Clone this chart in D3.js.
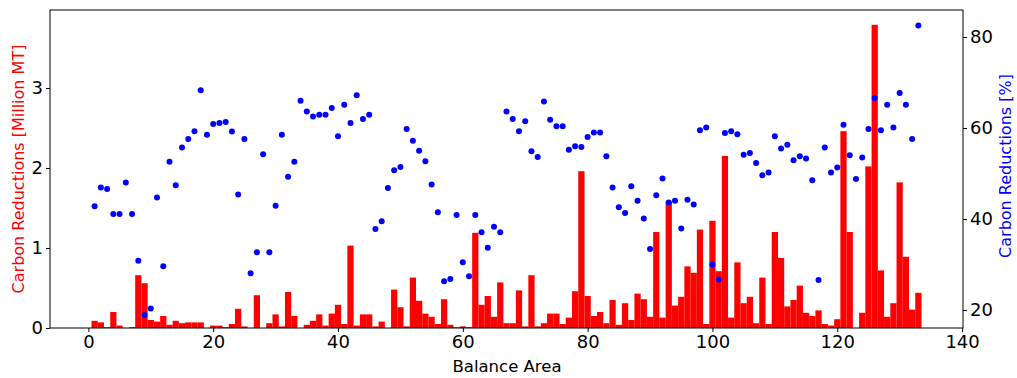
<!DOCTYPE html>
<html><head><meta charset="utf-8">
<script src="https://cdn.jsdelivr.net/npm/d3@7"></script>
<style>body{margin:0;background:#fff}svg{display:block}text{font-family:"DejaVu Sans",sans-serif}</style>
</head><body><svg id="c" width="1017" height="378"></svg>
<script>
const areas = d3.range(1, 134);
const reductionsMT = [0.09,0.07,0.01,0.20,0.03,0,0.01,0.66,0.56,0.10,
0.08,0.15,0.04,0.09,0.06,0.07,0.07,0.07,0,0.03,
0.03,0.01,0.05,0.24,0.02,0,0.41,0,0.06,0.17,
0.02,0.45,0.15,0,0.04,0.09,0.17,0.03,0.18,0.29,
0.05,1.03,0.03,0.17,0.17,0.02,0.08,0,0.48,0.26,
0.02,0.63,0.34,0.18,0.14,0.05,0.36,0.04,0.01,0.02,
0.01,1.19,0.29,0.40,0.14,0.57,0.06,0.06,0.47,0.02,
0.66,0.02,0.06,0.18,0.18,0.05,0.13,0.46,1.96,0.40,
0.15,0.20,0.06,0.35,0.04,0.31,0.10,0.43,0.36,0.14,
1.20,0.13,1.58,0.28,0.39,0.77,0.69,1.23,0.05,1.34,
0.71,2.15,0.13,0.82,0.31,0.39,0.06,0.63,0.05,1.20,
0.875,0.27,0.35,0.53,0.19,0.15,0.22,0.05,0.03,0.11,
2.46,1.20,0,0.19,2.02,3.79,0.72,0.14,0.31,1.82,
0.89,0.23,0.44];
const reductionsPct = [42.8,46.9,46.6,41.1,41.1,48.0,41.1,30.8,18.9,20.3,
44.7,29.6,52.6,47.4,55.7,57.6,59.3,68.3,58.5,60.9,
61.1,61.3,59.2,45.4,57.6,28.1,32.7,54.2,32.7,42.9,
58.5,49.3,52.6,66.0,63.6,62.5,62.9,62.9,64.4,58.2,
65.1,61.1,67.2,62.0,62.9,37.8,39.5,46.8,50.7,51.4,
59.8,57.2,55.0,52.7,47.6,41.5,26.3,26.8,40.9,30.5,
27.4,40.9,37.1,33.7,38.3,37.1,63.6,62.0,59.3,61.5,
54.9,53.6,65.8,61.8,60.4,60.4,55.2,56.0,55.8,58.0,
59.0,59.0,53.8,46.9,42.6,41.3,47.2,44.0,40.1,33.4,
45.2,48.9,43.6,44.0,37.9,44.2,43.2,59.5,60.1,30.0,
26.7,58.9,59.3,58.6,54.1,54.5,52.3,49.6,50.2,58.2,
55.5,56.3,52.9,53.8,53.3,48.5,26.6,55.7,50.2,51.3,
60.7,54.0,48.8,53.5,59.8,66.6,59.5,65.1,60.1,67.7,
65.1,57.6,82.5];
const xTicks = [0,20,40,60,80,100,120,140];
const yLeftTicks = [0,1,2,3];
const yRightTicks = [20,40,60,80];

const svg = d3.select("#c");
const L=50, R=963, T=10, B=328;
const x = d3.scaleLinear().domain([-6.15,140.15]).range([L,R]);
const yL = d3.scaleLinear().domain([0,3.975]).range([B,T]);
const yR = d3.scaleLinear().domain([16.04,85.93]).range([B,T]);

const bw = x(1)-x(0);
svg.append("g").selectAll("rect").data(areas).join("rect")
  .attr("x", d=>x(d)-bw/2).attr("width", bw)
  .attr("y", (d,i)=>yL(reductionsMT[i])).attr("height",(d,i)=>B-yL(reductionsMT[i]))
  .attr("fill","#ff0000");

svg.append("g").selectAll("circle").data(areas).join("circle")
  .attr("cx", d=>x(d)).attr("cy",(d,i)=>yR(reductionsPct[i])).attr("r",3)
  .attr("fill","#0000ff");

svg.append("rect").attr("x",L).attr("y",T).attr("width",R-L).attr("height",B-T)
  .attr("fill","none").attr("stroke","#000").attr("stroke-width",1);

function style(g){
  g.select(".domain").remove();
  g.selectAll("text").attr("font-size","18px").attr("fill","#000");
  g.selectAll("line").attr("stroke","#000");
}
svg.append("g").attr("transform",`translate(0,${B})`)
  .call(d3.axisBottom(x).tickValues(xTicks).tickSize(4).tickPadding(3))
  .call(style);
svg.append("g").attr("transform",`translate(${L},0)`)
  .call(d3.axisLeft(yL).tickValues(yLeftTicks).tickSize(4).tickPadding(3).tickFormat(d3.format("d")))
  .call(style);
svg.append("g").attr("transform",`translate(${R},0)`)
  .call(d3.axisRight(yR).tickValues(yRightTicks).tickSize(4).tickPadding(3))
  .call(style);

svg.append("text").attr("x",507).attr("y",372).attr("text-anchor","middle")
  .attr("font-size","16.5px").text("Balance Area");
svg.append("text").attr("transform",`translate(24,${(T+B)/2}) rotate(-90)`)
  .attr("text-anchor","middle").attr("font-size","16px").attr("fill","#ff0000")
  .text("Carbon Reductions [Million MT]");
svg.append("text").attr("transform",`translate(1011,166) rotate(-90)`)
  .attr("text-anchor","middle").attr("font-size","16px").attr("fill","#0000ff")
  .text("Carbon Reductions [%]");
</script></body></html>
